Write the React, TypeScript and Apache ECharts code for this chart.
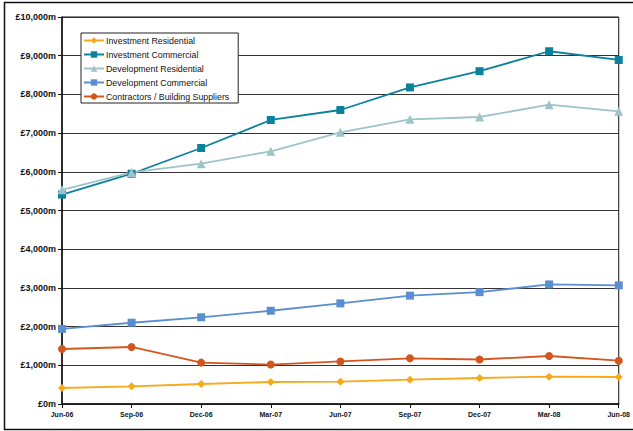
import React, { useEffect, useRef } from "react";
import * as echarts from "echarts";

const categories = ["Jun-06", "Sep-06", "Dec-06", "Mar-07", "Jun-07", "Sep-07", "Dec-07", "Mar-08", "Jun-08"];
const investmentResidential = [413, 457, 517, 568, 577, 628, 672, 706, 698];
const investmentCommercial = [5410, 5950, 6615, 7339, 7597, 8180, 8600, 9115, 8890];
const developmentResidential = [5535, 5985, 6210, 6530, 7020, 7356, 7416, 7734, 7563];
const developmentCommercial = [1940, 2100, 2240, 2410, 2600, 2800, 2890, 3090, 3065];
const contractors = [1421, 1473, 1070, 1020, 1100, 1181, 1150, 1240, 1119];
const yTicks = { min: 0, max: 10000, interval: 1000 };

export default function App() {
  const ref = useRef<HTMLDivElement>(null);
  useEffect(() => {
    if (!ref.current) return;
    const chart = echarts.init(ref.current, undefined, { renderer: "svg" });
    const mk = (name: string, data: number[], color: string, symbol: string, size: number) => ({
      name,
      type: "line",
      data,
      symbol,
      symbolSize: size,
      showAllSymbol: true,
      lineStyle: { color, width: 1.8 },
      itemStyle: { color },
      emphasis: { disabled: true },
    });
    chart.setOption({
      animation: false,
      backgroundColor: "#fff",
      textStyle: { fontFamily: "Liberation Sans, Arial, sans-serif" },
      grid: { left: 62, right: 8, top: 17, bottom: 27, show: true, borderColor: "#111", borderWidth: 1, containLabel: false },
      graphic: [
        {
          type: "rect",
          shape: { x: 4.5, y: 2.5, width: 660, height: 427 },
          style: { fill: "none", stroke: "#111", lineWidth: 1.5 },
          silent: true,
          z: -1,
        },
      ],
      legend: {
        orient: "vertical",
        left: 81,
        top: 33,
        padding: [3, 9, 2, 2],
        itemGap: 5,
        itemWidth: 20,
        itemHeight: 8,
        backgroundColor: "#fff",
        borderColor: "#222",
        borderWidth: 1,
        textStyle: { fontSize: 8.8, color: "#111", padding: [0, 0, 0, -3] },
        data: [
          "Investment Residential",
          "Investment Commercial",
          "Development Residential",
          "Development Commercial",
          "Contractors / Building Suppliers",
        ],
      },
      xAxis: {
        type: "category",
        data: categories,
        boundaryGap: false,
        axisLine: { lineStyle: { color: "#111", width: 1.5 } },
        axisTick: { show: true, alignWithLabel: true, length: 4, lineStyle: { color: "#111" } },
        axisLabel: { fontSize: 7, fontWeight: "bold", color: "#111", margin: 7, interval: 0 },
        splitLine: { show: false },
      },
      yAxis: {
        type: "value",
        min: yTicks.min,
        max: yTicks.max,
        interval: yTicks.interval,
        axisLine: { show: true, lineStyle: { color: "#111", width: 1.5 } },
        axisTick: { show: true, length: 4, lineStyle: { color: "#111" } },
        axisLabel: {
          fontSize: 9,
          fontWeight: "bold",
          color: "#111",
          margin: 6,
          formatter: (v: number) => "£" + v.toLocaleString("en-GB") + "m",
        },
        splitLine: { show: true, lineStyle: { color: "#333", width: 1 } },
      },
      series: [
        mk("Investment Residential", investmentResidential, "#F7A81B", "diamond", 8),
        mk("Investment Commercial", investmentCommercial, "#0B819B", "rect", 8),
        mk("Development Residential", developmentResidential, "#9EC3CA", "triangle", 9),
        mk("Development Commercial", developmentCommercial, "#5B8ED0", "rect", 8),
        mk("Contractors / Building Suppliers", contractors, "#D4561F", "circle", 8),
      ],
    });
    return () => chart.dispose();
  }, []);
  return <div ref={ref} style={{ position: "fixed", left: 0, top: 0, width: 633, height: 431 }} />;
}
